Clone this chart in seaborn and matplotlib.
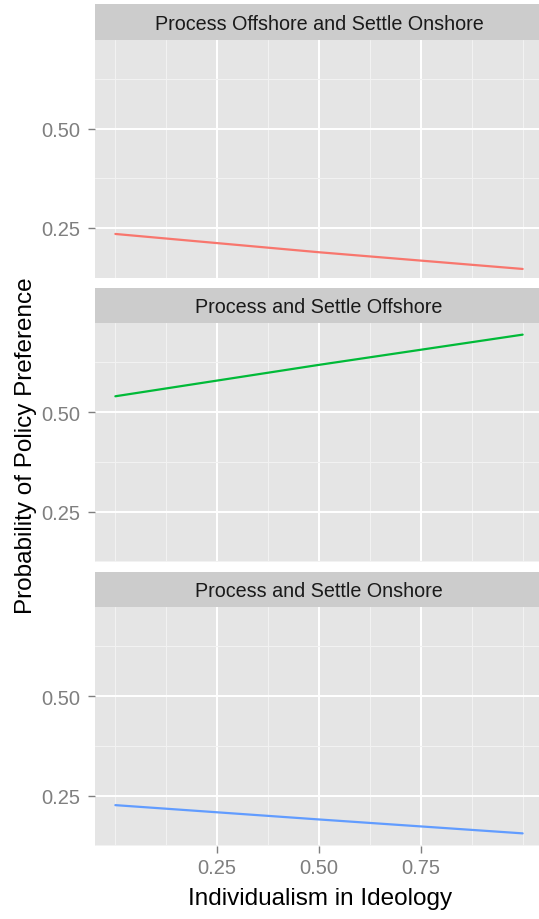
import pandas as pd
import seaborn as sns
import matplotlib.pyplot as plt

# ---------- data ----------
ideology = [0.0, 0.5, 1.0]
policies = [
    "Process Offshore and Settle Onshore",
    "Process and Settle Offshore",
    "Process and Settle Onshore",
]
prob_offshore_onshore = [0.235, 0.189, 0.147]
prob_settle_offshore = [0.540, 0.619, 0.695]
prob_settle_onshore = [0.226, 0.190, 0.155]

colors = ["#F8766D", "#00BA38", "#619CFF"]

df = pd.DataFrame({
    "ideology": ideology * 3,
    "prob": prob_offshore_onshore + prob_settle_offshore + prob_settle_onshore,
    "policy": [p for p in policies for _ in ideology],
})

# ---------- theme (ggplot grey look) ----------
sns.set_theme(style="darkgrid", rc={
    "axes.facecolor": "#E5E5E5",
    "grid.color": "white",
    "axes.edgecolor": "#E5E5E5",
    "xtick.bottom": True,
    "ytick.left": True,
    "xtick.direction": "out",
    "ytick.direction": "out",
    "xtick.color": "#7F7F7F",
    "ytick.color": "#7F7F7F",
})
plt.rcParams["font.family"] = ["Liberation Sans", "DejaVu Sans"]

W, H = 539, 920
fig = plt.figure(figsize=(W / 100, H / 100), dpi=100)

panel_left = 95 / W
panel_w = 448 / W
panel_tops = [40.7, 324.3, 608.3]
panel_h = 238.6
strip_h = 35.6

for i, pol in enumerate(policies):
    top = panel_tops[i]
    ax = fig.add_axes([panel_left, 1 - (top + panel_h) / H, panel_w, panel_h / H])
    sub = df[df["policy"] == pol]
    sns.lineplot(data=sub, x="ideology", y="prob", color=colors[i],
                 linewidth=1.6, ax=ax, legend=False)

    ax.set_xlim(-0.05, 1.05)
    ax.set_ylim(0.1235, 0.7235)
    ax.set_xticks([0.25, 0.5, 0.75])
    ax.set_xticks([0.0, 0.125, 0.375, 0.625, 0.875, 1.0], minor=True)
    ax.set_yticks([0.25, 0.5])
    ax.set_yticks([0.125, 0.375, 0.625], minor=True)
    ax.set_yticklabels(["0.25", "0.50"])
    ax.grid(which="major", color="white", linewidth=1.4)
    ax.grid(which="minor", color="#F2F2F2", linewidth=0.8)
    ax.tick_params(which="minor", length=0)
    ax.tick_params(which="major", axis="y", length=5, width=1, color="#7F7F7F",
                   labelsize=14.5, labelcolor="#7F7F7F", left=True, pad=5.5)
    if i < 2:
        ax.tick_params(axis="x", which="both", bottom=False, labelbottom=False)
    else:
        ax.set_xticklabels(["0.25", "0.50", "0.75"])
        ax.tick_params(which="major", axis="x", length=5, width=1, color="#7F7F7F",
                       labelsize=14.5, labelcolor="#7F7F7F", bottom=True, pad=4)
    ax.set_xlabel("")
    ax.set_ylabel("")
    for s in ax.spines.values():
        s.set_visible(False)

    # ---------- facet strip ----------
    sax = fig.add_axes([panel_left, 1 - top / H, panel_w, strip_h / H])
    sax.set_facecolor("#CCCCCC")
    sax.tick_params(left=False, bottom=False, labelleft=False, labelbottom=False)
    sax.grid(False)
    for s in sax.spines.values():
        s.set_visible(False)
    sax.text(0.55 / 1.1, 0.46, pol, ha="center", va="center",
             fontsize=14.2, color="#1A1A1A", transform=sax.transAxes)

fig.text(320 / W, 1 - 899 / H, "Individualism in Ideology", ha="center", va="center",
         fontsize=17.5, color="black")
fig.text(26 / W, 1 - 446 / H, "Probability of Policy Preference", ha="center",
         va="center", rotation=90, fontsize=17.5, color="black")

fig.savefig("out.png", dpi=100)
